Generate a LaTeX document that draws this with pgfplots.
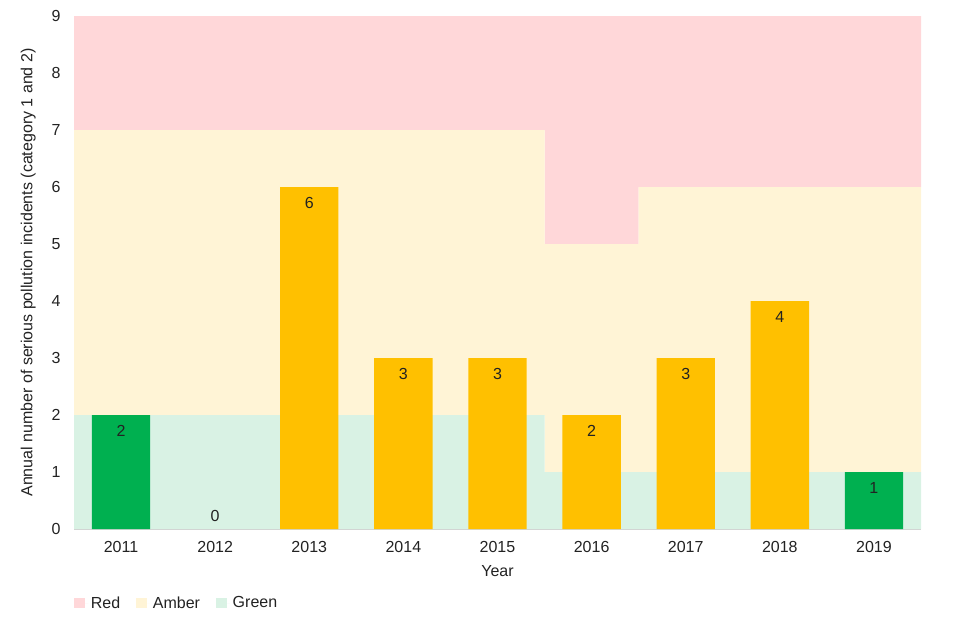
\documentclass[border=0pt]{standalone}
\usepackage{fontspec}
\setmainfont{Liberation Sans}
\usepackage{pgfplots}
\pgfplotsset{compat=1.18}

\definecolor{bandred}{RGB}{255,215,217}
\definecolor{bandamber}{RGB}{255,244,214}
\definecolor{bandgreen}{RGB}{217,242,228}
\definecolor{baramber}{RGB}{255,192,0}
\definecolor{bargreen}{RGB}{0,176,80}
\definecolor{txt}{RGB}{34,34,34}

% common frame: 847 x 513 px plot area, 1px = 0.75pt
\pgfplotsset{
  chartbase/.style={
    scale only axis, width=635.25pt, height=384.75pt,
    at={(0,0)}, anchor=south west,
    xmin=-0.5, xmax=8.5, ymin=0, ymax=9,
    enlargelimits=false,
    /pgf/number format/assume math mode=true,
  }
}

\begin{document}
\begin{tikzpicture}[font=\fontsize{12}{14}\selectfont]
\useasboundingbox (-55.5pt,-83.25pt) rectangle (664.5pt,396.75pt);

% threshold bands (green / amber / red), stacked to 9
\begin{axis}[chartbase,
  ybar stacked, bar width=1,
  axis lines*=left,
  y axis line style={draw=none},
  x axis line style={draw=black!18, -},
  major tick length=0pt,
  xtick={0,...,8},
  xticklabels={2011,2012,2013,2014,2015,2016,2017,2018,2019},
  ytick={0,...,9},
  tick label style={text=txt},
  xticklabel style={yshift=-6pt},
  yticklabel style={xshift=-6.5pt},
  xlabel={Year},
  ylabel={Annual number of serious pollution incidents (category 1 and 2)},
  every axis x label/.style={at={(axis description cs:0.5,-0.082)}, anchor=center, text=txt},
  every axis y label/.style={at={(axis description cs:-0.054,0.5)}, rotate=90, anchor=center, text=txt},
  reverse legend,
  legend columns=-1,
  legend style={at={(axis description cs:0,-0.145)}, anchor=west,
    draw=none, fill=none, inner sep=0pt, text=txt,
    /tikz/every even column/.append style={column sep=10pt}},
  legend image code/.code={\fill[#1, draw=none] (0pt,-3.75pt) rectangle (8.25pt,3.75pt);
    \path (0pt,0pt) -- (10.5pt,0pt);},
]
\addplot[fill=bandgreen, draw=none] coordinates {
  (0,2) (1,2) (2,2) (3,2) (4,2) (5,1) (6,1) (7,1) (8,1)};
\addplot[fill=bandamber, draw=none] coordinates {
  (0,5) (1,5) (2,5) (3,5) (4,5) (5,4) (6,5) (7,5) (8,5)};
\addplot[fill=bandred, draw=none] coordinates {
  (0,2) (1,2) (2,2) (3,2) (4,2) (5,4) (6,3) (7,3) (8,3)};
\legend{Green,Amber,Red}
\end{axis}

% incident counts
\begin{axis}[chartbase,
  hide axis,
  ybar, bar width=0.62, bar shift=0pt,
  nodes near coords,
]
\addplot[fill=bargreen, draw=none,
  every node near coord/.style={anchor=north, yshift=-4.5pt, text=txt, font=\fontsize{12}{14}\selectfont}]
  coordinates {(0,2) (8,1)};
\addplot[fill=baramber, draw=none,
  every node near coord/.style={anchor=north, yshift=-4.5pt, text=txt, font=\fontsize{12}{14}\selectfont}]
  coordinates {(2,6) (3,3) (4,3) (5,2) (6,3) (7,4)};
\addplot[fill=none, draw=none,
  every node near coord/.style={anchor=south, yshift=2.2pt, text=txt, font=\fontsize{12}{14}\selectfont}]
  coordinates {(1,0)};
\end{axis}
\end{tikzpicture}
\end{document}
